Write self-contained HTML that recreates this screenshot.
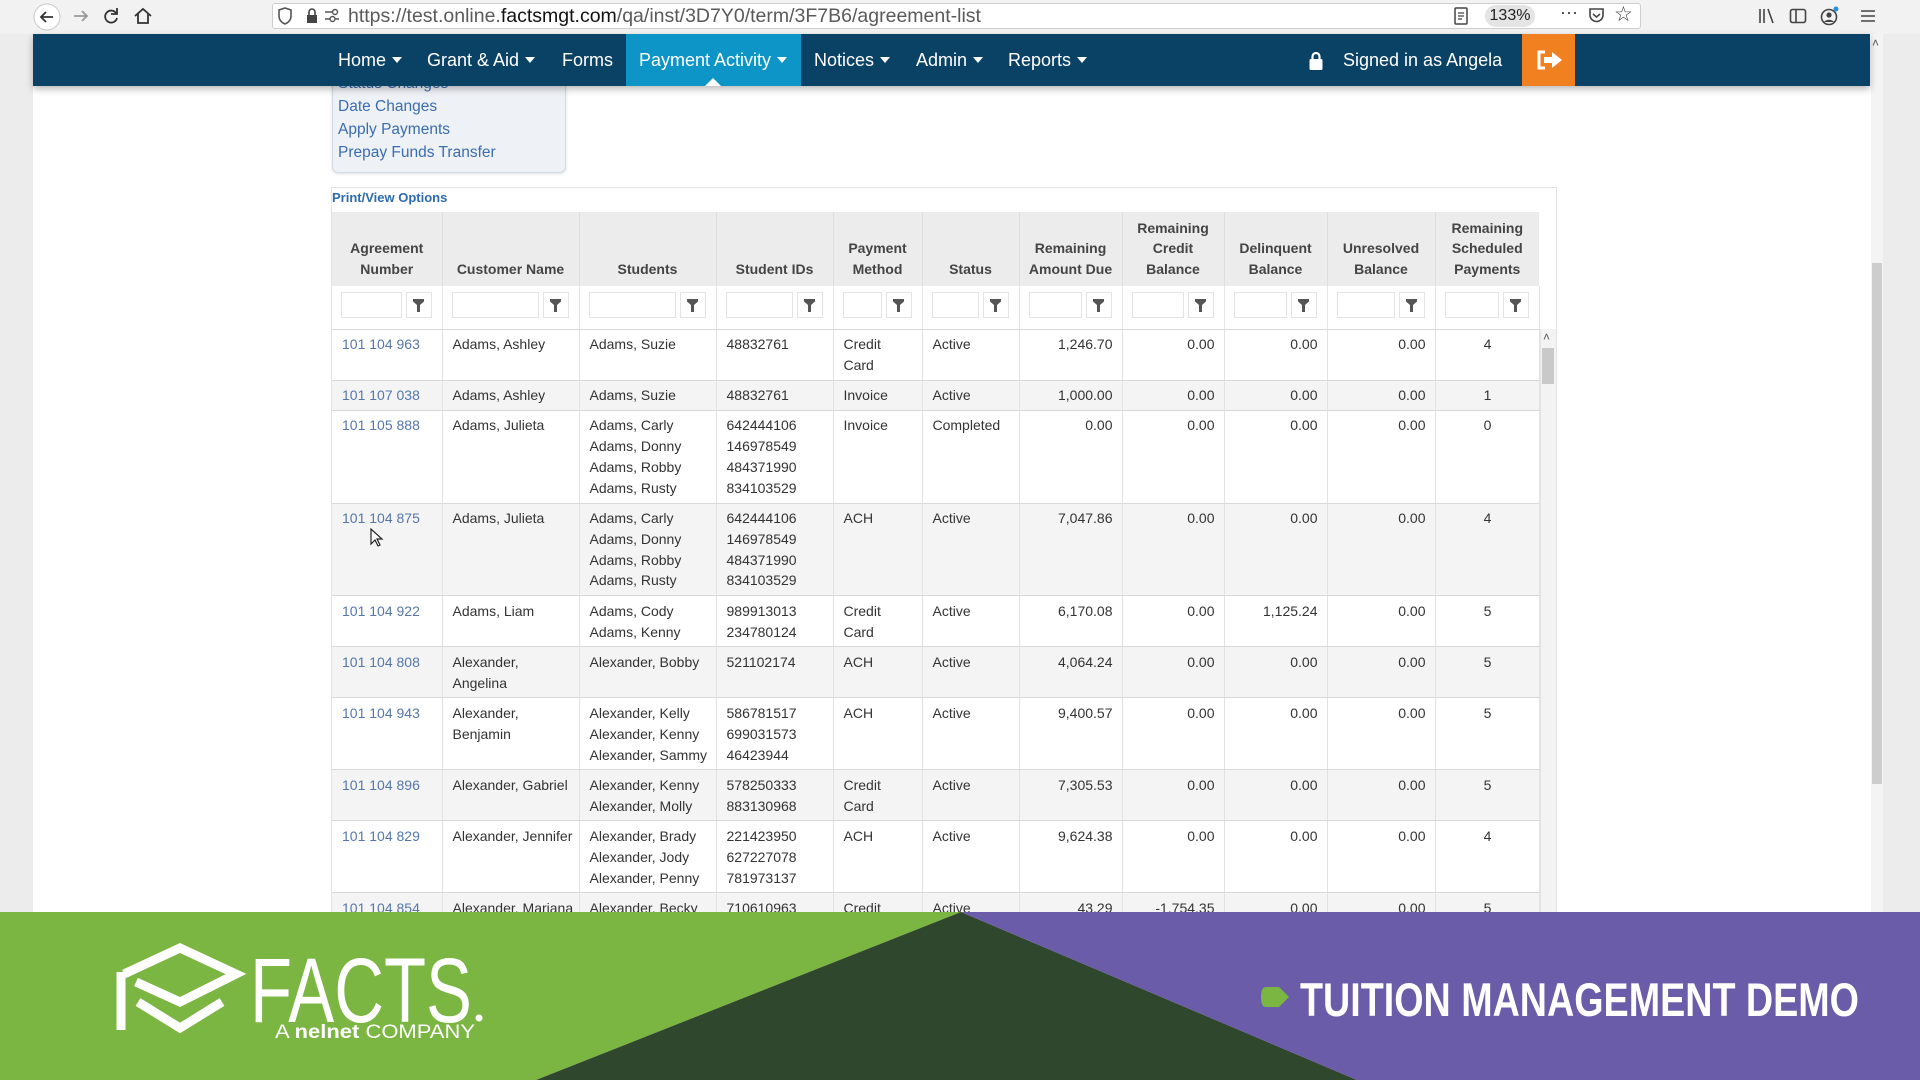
<!DOCTYPE html>
<html><head><meta charset="utf-8">
<style>
*{box-sizing:border-box;margin:0;padding:0}
body{width:1920px;height:1080px;overflow:hidden;background:#ececec;font-family:"Liberation Sans",Arial,sans-serif;position:relative}
.a{position:absolute}
#toolbar{left:0;top:0;width:1920px;height:34px;background:#f2f2f2}
.ti{position:absolute;top:0;height:30px;line-height:30px;font-size:20px;color:#3a3a3a}
#url{left:272px;top:3px;width:1369px;height:26px;background:#fff;border:1px solid #cfcfcf;border-radius:3px}
#urltext{left:348px;top:3px;height:26px;line-height:26px;font-size:19.5px;color:#5a5a5a;white-space:nowrap}
#urltext b{color:#111;font-weight:normal}
#content{left:33px;top:34px;width:1838px;height:878px;background:#fff}
#nav{left:33px;top:34px;width:1837px;height:52px;background:#0a4266;box-shadow:0 3px 7px rgba(0,0,0,.28);z-index:5}
.ni{position:absolute;top:0;height:52px;line-height:52px;font-size:18px;color:#fff;white-space:nowrap}
.car{display:inline-block;width:0;height:0;border-left:5px solid transparent;border-right:5px solid transparent;border-top:6px solid #fff;margin-left:6px;vertical-align:middle;position:relative;top:-1px}
#pa{left:593px;top:0;width:175px;height:52px;background:#0e95c8}
#notch{left:672px;top:44px;width:0;height:0;border-left:8px solid transparent;border-right:8px solid transparent;border-bottom:8px solid #fff}
#orange{left:1489px;top:0;width:53px;height:52px;background:#f08020}
#dd{left:332px;top:66px;width:234px;height:107px;background:#eef1f6;border:1px solid #d3d9e2;border-radius:0 0 6px 6px;box-shadow:0 1px 3px rgba(0,0,0,.12)}
.di{position:absolute;left:338px;font-size:15.5px;color:#3b6db0;white-space:nowrap;line-height:20px}
#box{left:331px;top:187px;width:1226px;height:760px;border:1px solid #e2e2e2;background:#fff}
#pvo{left:332px;top:189px;font-size:13px;font-weight:bold;color:#2d6bb0;line-height:18px}
table{border-collapse:collapse;table-layout:fixed;width:1207px;position:absolute;left:332px;top:212px}
th{background:#ececec;font-weight:bold;font-size:14px;color:#444;line-height:20.8px;text-align:center;vertical-align:bottom;padding:0 3px 6px;height:74px;border-right:1px solid #dedede}
th:last-child{border-right:none}
tr.f td{height:43px;padding:6px 10px 0 9px;vertical-align:top;border-right:1px solid #e6e6e6;border-bottom:1px solid #d8d8d8;background:#fff}
.fw{display:flex;gap:4px;height:26px}
.fi{flex:1;border:1px solid #e4e4e4;background:#fff}
.fb{width:26px;border:1px solid #e4e4e4;background:#fff;display:flex;align-items:center;justify-content:center}
tbody tr.d td{font-size:14px;color:#333;line-height:20.8px;padding:4.5px 9px 4px 10px;vertical-align:top;white-space:nowrap;border-right:1px solid #e2e2e2;border-bottom:1px solid #d9d9d9}
tr.d.s td{background:#f4f4f4}
tr.d:not(.s) td{background:#fff}
td.r{text-align:right}
td.c{text-align:center}
td.l{color:#5677ab !important}
#sb{left:1540px;top:329px;width:16px;height:583px;background:#f3f3f3;border-left:1px solid #e4e4e4}
#sbt{left:1542px;top:348px;width:12px;height:36px;background:#c9c9c9}
#pscroll{left:1871px;top:34px;width:12px;height:878px;background:#f4f4f4}
#pthumb{left:1872px;top:263px;width:10px;height:521px;background:#cdcdcd}
#banner{left:0;top:912px;width:1920px;height:168px;z-index:10}
</style></head><body>

<div id="toolbar" class="a"></div>
<svg class="a" style="left:32px;top:2px" width="30" height="30" viewBox="0 0 30 30"><circle cx="15" cy="15" r="13" fill="#fff" stroke="#c8c8c8"/><path d="M21 15H9M14 10l-5 5 5 5" stroke="#333" stroke-width="1.8" fill="none"/></svg>
<svg class="a" style="left:70px;top:5px" width="22" height="22" viewBox="0 0 22 22"><path d="M4 11h13M12 6l5 5-5 5" stroke="#999" stroke-width="1.8" fill="none"/></svg>
<svg class="a" style="left:100px;top:5px" width="22" height="22" viewBox="0 0 22 22"><path d="M16 8a6 6 0 1 0 1 5" stroke="#333" stroke-width="1.8" fill="none"/><path d="M17 3v6h-6" stroke="#333" stroke-width="1.8" fill="none"/></svg>
<svg class="a" style="left:132px;top:5px" width="22" height="22" viewBox="0 0 22 22"><path d="M3 11L11 4l8 7M6 9v9h10V9" stroke="#333" stroke-width="1.8" fill="none"/></svg>
<div id="url" class="a"></div>
<svg class="a" style="left:278px;top:7px" width="14" height="18" viewBox="0 0 14 18"><path d="M7 1L1 3v6c0 4 3 7 6 8 3-1 6-4 6-8V3z" fill="none" stroke="#555" stroke-width="1.6"/></svg>
<svg class="a" style="left:306px;top:8px" width="12" height="16" viewBox="0 0 12 16"><rect x="1" y="7" width="10" height="8" fill="#444"/><path d="M3 7V4a3 3 0 0 1 6 0v3" stroke="#444" stroke-width="1.6" fill="none"/></svg>
<svg class="a" style="left:324px;top:8px" width="16" height="16" viewBox="0 0 16 16"><path d="M1 4h8M1 11h5M11 11h4" stroke="#555" stroke-width="1.6"/><circle cx="11" cy="4" r="2.5" fill="none" stroke="#555" stroke-width="1.4"/><circle cx="8.5" cy="11" r="2.5" fill="none" stroke="#555" stroke-width="1.4"/></svg>
<div id="urltext" class="a">https://test.online.<b>factsmgt.com</b>/qa/inst/3D7Y0/term/3F7B6/agreement-list</div>
<svg class="a" style="left:1454px;top:7px" width="14" height="18" viewBox="0 0 14 18"><rect x="1" y="1" width="12" height="16" rx="1" fill="none" stroke="#444" stroke-width="1.5"/><path d="M4 6h6M4 9h6M4 12h4" stroke="#444" stroke-width="1.2"/></svg>
<div class="a" style="left:1485px;top:5px;width:50px;height:22px;border-radius:11px;background:#e4e4e4;font-size:16px;line-height:22px;text-align:center;color:#222">133%</div>
<div class="ti" style="left:1560px;font-size:18px;top:-3px">···</div>
<svg class="a" style="left:1588px;top:7px" width="17" height="17" viewBox="0 0 17 17"><path d="M2 2h13v6a6.5 6.5 0 0 1-13 0z" fill="none" stroke="#444" stroke-width="1.6"/><path d="M5 7l3.5 3L12 7" fill="none" stroke="#444" stroke-width="1.6"/></svg>
<div class="ti" style="left:1614px;font-size:21px">☆</div>
<svg class="a" style="left:1758px;top:7px" width="18" height="18" viewBox="0 0 18 18"><path d="M2 2v14M6 2v14M10 2l5 14" stroke="#444" stroke-width="1.6"/></svg>
<svg class="a" style="left:1789px;top:7px" width="18" height="18" viewBox="0 0 18 18"><rect x="1.5" y="2.5" width="15" height="13" rx="2" fill="none" stroke="#444" stroke-width="1.6"/><path d="M7 3v12" stroke="#444" stroke-width="1.6"/></svg>
<svg class="a" style="left:1820px;top:6px" width="20" height="20" viewBox="0 0 20 20"><circle cx="9" cy="11" r="7.5" fill="none" stroke="#444" stroke-width="1.6"/><circle cx="9" cy="9" r="2.6" fill="#444"/><path d="M4 16c2-3 8-3 10 0" fill="#444"/><circle cx="16" cy="3" r="2.5" fill="#2a90e0"/></svg>
<svg class="a" style="left:1860px;top:8px" width="16" height="16" viewBox="0 0 16 16"><path d="M1 3h14M1 8h14M1 13h14" stroke="#444" stroke-width="1.6"/></svg>

<div id="content" class="a"></div>
<div id="pscroll" class="a"></div>
<div id="pthumb" class="a"></div>
<div class="a" style="left:1872px;top:36px;font-size:12px;color:#555">&#708;</div>

<div id="dd" class="a"></div>
<div class="di" style="top:74px">Status Changes</div>
<div class="di" style="top:97px">Date Changes</div>
<div class="di" style="top:120px">Apply Payments</div>
<div class="di" style="top:143px">Prepay Funds Transfer</div>

<div id="nav" class="a">
  <div id="pa" class="a"></div>
  <div id="notch" class="a"></div>
  <div class="ni" style="left:305px">Home<span class="car"></span></div>
  <div class="ni" style="left:394px">Grant &amp; Aid<span class="car"></span></div>
  <div class="ni" style="left:529px">Forms</div>
  <div class="ni" style="left:606px">Payment Activity<span class="car"></span></div>
  <div class="ni" style="left:781px">Notices<span class="car"></span></div>
  <div class="ni" style="left:883px">Admin<span class="car"></span></div>
  <div class="ni" style="left:975px">Reports<span class="car"></span></div>
  <svg class="a" style="left:1276px;top:17px" width="14" height="19" viewBox="0 0 14 19"><rect x="0.5" y="8" width="13" height="11" rx="1.5" fill="#fff"/><path d="M3.5 8.5V5.5a3.5 3.5 0 0 1 7 0v3" stroke="#fff" stroke-width="2.2" fill="none"/></svg>
  <div class="ni" style="left:1310px">Signed in as Angela</div>
  <div id="orange" class="a">
    <svg class="a" style="left:14px;top:16px" width="28" height="20" viewBox="0 0 28 20"><path d="M9 2H3v16h6" stroke="#fff" stroke-width="3" fill="none"/><path d="M8 7h8V2l10 8-10 8v-5H8z" fill="#fff"/></svg>
  </div>
</div>

<div id="box" class="a"></div>
<div id="pvo" class="a">Print/View Options</div>

<table>
<colgroup><col style="width:110px"><col style="width:137px"><col style="width:137px"><col style="width:117px"><col style="width:89px"><col style="width:97px"><col style="width:103px"><col style="width:102px"><col style="width:103px"><col style="width:108px"><col style="width:104px"></colgroup>
<thead>
<tr><th>Agreement<br>Number</th><th>Customer Name</th><th>Students</th><th>Student IDs</th><th>Payment<br>Method</th><th>Status</th><th>Remaining<br>Amount Due</th><th>Remaining<br>Credit<br>Balance</th><th>Delinquent<br>Balance</th><th>Unresolved<br>Balance</th><th>Remaining<br>Scheduled<br>Payments</th></tr>
</thead>
<tbody>
<tr class="f">
<td><div class="fw"><div class="fi"></div><div class="fb"><svg width="11" height="13" viewBox="0 0 11 13"><path d="M0 0h11v2.5L7 6v7H4V6L0 2.5z" fill="#555"/></svg></div></div></td>
<td><div class="fw"><div class="fi"></div><div class="fb"><svg width="11" height="13" viewBox="0 0 11 13"><path d="M0 0h11v2.5L7 6v7H4V6L0 2.5z" fill="#555"/></svg></div></div></td>
<td><div class="fw"><div class="fi"></div><div class="fb"><svg width="11" height="13" viewBox="0 0 11 13"><path d="M0 0h11v2.5L7 6v7H4V6L0 2.5z" fill="#555"/></svg></div></div></td>
<td><div class="fw"><div class="fi"></div><div class="fb"><svg width="11" height="13" viewBox="0 0 11 13"><path d="M0 0h11v2.5L7 6v7H4V6L0 2.5z" fill="#555"/></svg></div></div></td>
<td><div class="fw"><div class="fi"></div><div class="fb"><svg width="11" height="13" viewBox="0 0 11 13"><path d="M0 0h11v2.5L7 6v7H4V6L0 2.5z" fill="#555"/></svg></div></div></td>
<td><div class="fw"><div class="fi"></div><div class="fb"><svg width="11" height="13" viewBox="0 0 11 13"><path d="M0 0h11v2.5L7 6v7H4V6L0 2.5z" fill="#555"/></svg></div></div></td>
<td><div class="fw"><div class="fi"></div><div class="fb"><svg width="11" height="13" viewBox="0 0 11 13"><path d="M0 0h11v2.5L7 6v7H4V6L0 2.5z" fill="#555"/></svg></div></div></td>
<td><div class="fw"><div class="fi"></div><div class="fb"><svg width="11" height="13" viewBox="0 0 11 13"><path d="M0 0h11v2.5L7 6v7H4V6L0 2.5z" fill="#555"/></svg></div></div></td>
<td><div class="fw"><div class="fi"></div><div class="fb"><svg width="11" height="13" viewBox="0 0 11 13"><path d="M0 0h11v2.5L7 6v7H4V6L0 2.5z" fill="#555"/></svg></div></div></td>
<td><div class="fw"><div class="fi"></div><div class="fb"><svg width="11" height="13" viewBox="0 0 11 13"><path d="M0 0h11v2.5L7 6v7H4V6L0 2.5z" fill="#555"/></svg></div></div></td>
<td><div class="fw"><div class="fi"></div><div class="fb"><svg width="11" height="13" viewBox="0 0 11 13"><path d="M0 0h11v2.5L7 6v7H4V6L0 2.5z" fill="#555"/></svg></div></div></td>
</tr>
<tr class="d"><td class="l">101 104 963</td><td>Adams, Ashley</td><td>Adams, Suzie</td><td>48832761</td><td>Credit<br>Card</td><td>Active</td><td class="r">1,246.70</td><td class="r">0.00</td><td class="r">0.00</td><td class="r">0.00</td><td class="c">4</td></tr>
<tr class="d s"><td class="l">101 107 038</td><td>Adams, Ashley</td><td>Adams, Suzie</td><td>48832761</td><td>Invoice</td><td>Active</td><td class="r">1,000.00</td><td class="r">0.00</td><td class="r">0.00</td><td class="r">0.00</td><td class="c">1</td></tr>
<tr class="d"><td class="l">101 105 888</td><td>Adams, Julieta</td><td>Adams, Carly<br>Adams, Donny<br>Adams, Robby<br>Adams, Rusty</td><td>642444106<br>146978549<br>484371990<br>834103529</td><td>Invoice</td><td>Completed</td><td class="r">0.00</td><td class="r">0.00</td><td class="r">0.00</td><td class="r">0.00</td><td class="c">0</td></tr>
<tr class="d s"><td class="l">101 104 875</td><td>Adams, Julieta</td><td>Adams, Carly<br>Adams, Donny<br>Adams, Robby<br>Adams, Rusty</td><td>642444106<br>146978549<br>484371990<br>834103529</td><td>ACH</td><td>Active</td><td class="r">7,047.86</td><td class="r">0.00</td><td class="r">0.00</td><td class="r">0.00</td><td class="c">4</td></tr>
<tr class="d"><td class="l">101 104 922</td><td>Adams, Liam</td><td>Adams, Cody<br>Adams, Kenny</td><td>989913013<br>234780124</td><td>Credit<br>Card</td><td>Active</td><td class="r">6,170.08</td><td class="r">0.00</td><td class="r">1,125.24</td><td class="r">0.00</td><td class="c">5</td></tr>
<tr class="d s"><td class="l">101 104 808</td><td>Alexander,<br>Angelina</td><td>Alexander, Bobby</td><td>521102174</td><td>ACH</td><td>Active</td><td class="r">4,064.24</td><td class="r">0.00</td><td class="r">0.00</td><td class="r">0.00</td><td class="c">5</td></tr>
<tr class="d"><td class="l">101 104 943</td><td>Alexander,<br>Benjamin</td><td>Alexander, Kelly<br>Alexander, Kenny<br>Alexander, Sammy</td><td>586781517<br>699031573<br>46423944</td><td>ACH</td><td>Active</td><td class="r">9,400.57</td><td class="r">0.00</td><td class="r">0.00</td><td class="r">0.00</td><td class="c">5</td></tr>
<tr class="d s"><td class="l">101 104 896</td><td>Alexander, Gabriel</td><td>Alexander, Kenny<br>Alexander, Molly</td><td>578250333<br>883130968</td><td>Credit<br>Card</td><td>Active</td><td class="r">7,305.53</td><td class="r">0.00</td><td class="r">0.00</td><td class="r">0.00</td><td class="c">5</td></tr>
<tr class="d"><td class="l">101 104 829</td><td>Alexander, Jennifer</td><td>Alexander, Brady<br>Alexander, Jody<br>Alexander, Penny</td><td>221423950<br>627227078<br>781973137</td><td>ACH</td><td>Active</td><td class="r">9,624.38</td><td class="r">0.00</td><td class="r">0.00</td><td class="r">0.00</td><td class="c">4</td></tr>
<tr class="d s"><td class="l">101 104 854</td><td>Alexander, Mariana</td><td>Alexander, Becky</td><td>710610963</td><td>Credit<br>Card</td><td>Active</td><td class="r">43.29</td><td class="r">-1,754.35</td><td class="r">0.00</td><td class="r">0.00</td><td class="c">5</td></tr>
</tbody>
</table>

<div id="sb" class="a"></div>
<div class="a" style="left:1543px;top:330px;font-size:12px;color:#555">&#708;</div>
<div id="sbt" class="a"></div>

<svg class="a" style="left:370px;top:528px" width="14" height="20" viewBox="0 0 14 20"><path d="M1 1v15l4-4 3 6 2-1-3-6h5z" fill="#fff" stroke="#222" stroke-width="1.2"/></svg>

<svg id="banner" class="a" width="1920" height="168" viewBox="0 0 1920 168">
  <polygon points="0,0 961,0 536,168 0,168" fill="#7bb642"/>
  <polygon points="961,0 1357,168 536,168" fill="#2f482d"/>
  <polygon points="961,0 1920,0 1920,168 1357,168" fill="#6a5ca8"/>
  <g stroke="#fff" stroke-width="9" fill="none" stroke-linejoin="miter">
    <path d="M124,62 L180,36 L236,62 L180,90 L136,70"/>
    <path d="M138,90 L180,116 L222,90"/>
    <path d="M121,60 L121,118"/>
  </g>
  <text x="250" y="110" font-family="Liberation Sans, Arial, sans-serif" font-size="92" fill="#fff" textLength="222" lengthAdjust="spacingAndGlyphs">FACTS</text>
  <circle cx="479" cy="106" r="3.5" fill="#fff"/>
  <text x="275" y="126" font-family="Liberation Sans, Arial, sans-serif" font-size="19" fill="#fff" textLength="200" lengthAdjust="spacingAndGlyphs">A <tspan font-weight="bold">nelnet</tspan> COMPANY</text>
  <path d="M1266,75 L1279,75 L1289,85 L1279,95 L1266,95 Q1261,95 1261,85 Q1261,75 1266,75Z" fill="#7bb642"/>
  <text x="1300" y="104" font-family="Liberation Sans, Arial, sans-serif" font-size="47" font-weight="bold" fill="#fff" textLength="559" lengthAdjust="spacingAndGlyphs">TUITION MANAGEMENT DEMO</text>
</svg>
</body></html>
